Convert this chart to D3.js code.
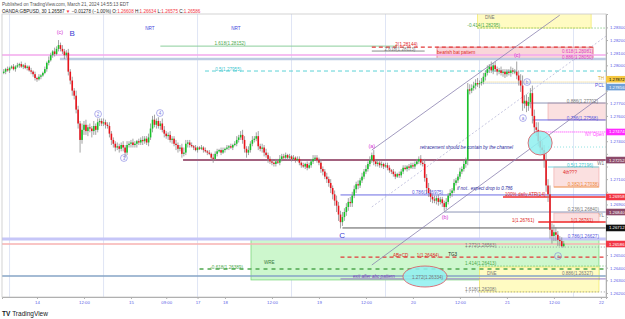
<!DOCTYPE html>
<html><head><meta charset="utf-8">
<script src="https://cdnjs.cloudflare.com/ajax/libs/d3/7.8.5/d3.min.js"></script>
<style>
body{margin:0;background:#fff;}
svg{display:block;font-family:"Liberation Sans",Arial,sans-serif;}
</style>
</head><body>
<svg width="625" height="319"></svg>
<script>
// GBPUSD 30m candles, 13 Mar 15:30 -> 21 Mar 14:30 (NY time, weekend removed)
const firstOpen = 1.2794;
const closes = [
 1.2795,1.2797,1.2796,1.2798,1.2799,1.2797,1.2799,1.2800,1.2801,1.2799,1.2800,1.2798,1.2799,1.2796,1.2795,1.2793,
 1.2790,1.2789,1.2791,1.2792,1.2794,1.2797,1.2802,1.2804,1.2808,1.2811,1.2809,1.2813,1.2816,1.2813,1.2811,1.2808,
 1.2810,1.2795,1.2788,1.2780,1.2776,1.2765,1.2754,1.2741,1.2749,1.2753,1.2748,1.2751,1.2750,1.2748,1.2752,1.2749,
 1.2755,1.2756,1.2754,1.2755,1.2753,1.2752,1.2746,1.2741,1.2738,1.2735,1.2736,1.2734,1.2737,1.2735,1.2731,1.2737,
 1.2738,1.2739,1.2737,1.2738,1.2740,1.2739,1.2741,1.2740,1.2742,1.2739,1.2743,1.2750,1.2757,1.2753,1.2756,1.2752,
 1.2754,1.2749,1.2746,1.2744,1.2745,1.2741,1.2742,1.2738,1.2737,1.2734,1.2735,1.2730,1.2731,1.2738,1.2739,1.2737,
 1.2736,1.2735,1.2733,1.2735,1.2734,1.2735,1.2733,1.2732,1.2731,1.2730,1.2727,1.2726,1.2730,1.2732,1.2733,1.2731,
 1.2733,1.2734,1.2735,1.2736,1.2735,1.2737,1.2738,1.2741,1.2743,1.2745,1.2741,1.2734,1.2731,1.2733,1.2738,1.2741,
 1.2742,1.2744,1.2736,1.2734,1.2735,1.2731,1.2729,1.2726,1.2724,1.2723,1.2722,1.2724,1.2723,1.2726,1.2728,1.2727,
 1.2729,1.2727,1.2728,1.2726,1.2727,1.2725,1.2726,1.2723,1.2721,1.2720,1.2722,1.2719,1.2721,1.2724,1.2726,1.2727,
 1.2725,1.2723,1.2718,1.2716,1.2712,1.2710,1.2707,1.2703,1.2698,1.2693,1.2689,1.2682,1.2676,1.2680,1.2684,1.2688,
 1.2692,1.2691,1.2697,1.2702,1.2706,1.2705,1.2709,1.2712,1.2716,1.2718,1.2722,1.2725,1.2729,1.2724,1.2722,1.2723,
 1.2721,1.2722,1.2720,1.2721,1.2719,1.2717,1.2716,1.2714,1.2712,1.2714,1.2713,1.2716,1.2719,1.2718,1.2720,1.2719,
 1.2721,1.2720,1.2722,1.2724,1.2726,1.2723,1.2722,1.2711,1.2703,1.2699,1.2696,1.2694,1.2693,1.2695,1.2692,1.2694,
 1.2691,1.2688,1.2692,1.2697,1.2699,1.2701,1.2707,1.2709,1.2712,1.2716,1.2718,1.2722,1.2725,1.2781,1.2780,1.2782,
 1.2784,1.2786,1.2785,1.2786,1.2787,1.2791,1.2794,1.2797,1.2799,1.2796,1.2800,1.2797,1.2795,1.2796,1.2794,1.2795,
 1.2793,1.2795,1.2794,1.2796,1.2795,1.2795,1.2792,1.2788,1.2784,1.2770,1.2772,1.2768,1.2771,1.2778,1.2760,1.2751,
 1.2749,1.2740,1.2735,1.2733,1.2725,1.2705,1.2698,1.2670,1.2665,1.2668,1.2666,1.2662,1.2661,1.2657,1.2659
];
// wick lengths in pips above / below the body
const wickUp = [
 2,1,2,1,1,2,1,2,1,2,1,2,1,1,2,1, 2,1,2,1,1,2,1,3,2,1,3,2,4,2,3,2,
 2,3,2,3,2,4,3,2,5,3,4,2,3,2,4,2, 3,2,2,3,2,2,3,2,2,2,3,2,2,3,2,3,
 2,2,3,2,1,2,2,3,2,2,3,4,3,4,2,3, 2,4,3,2,2,3,2,2,3,2,2,3,4,3,2,2,
 2,1,2,1,1,2,1,2,1,2,1,3,2,2,1,2, 2,1,2,1,2,1,2,3,2,3,4,3,2,3,2,3,
 2,3,4,2,3,2,3,2,2,2,1,2,2,3,2,2, 2,1,2,1,2,1,2,2,1,2,1,2,2,2,3,2,
 2,2,3,2,2,3,2,3,2,3,4,3,3,4,3,3, 3,4,3,3,2,3,2,3,2,3,2,3,2,4,2,2,
 2,2,1,2,2,2,1,2,2,1,2,2,2,2,1,2, 2,2,2,2,2,3,2,4,3,4,3,2,3,2,3,2,
 2,2,3,2,3,2,3,2,2,3,2,3,2,5,4,3, 3,3,4,2,3,3,2,3,2,4,2,3,2,2,3,2,
 2,2,2,3,2,2,8,4,5,8,4,5,4,4,6,5, 4,6,4,5,4,6,5,7,5,6,4,3,3,3,2
];
const wickDn = [
 1,2,1,2,1,1,2,1,2,1,2,1,2,1,2,2, 2,2,1,2,1,1,2,2,1,2,2,1,2,2,2,3,
 2,3,3,4,3,3,4,10,3,4,3,4,3,5,3,4, 2,3,2,2,3,2,3,4,3,3,2,3,2,3,4,2,
 2,3,2,2,3,2,2,3,2,2,3,2,3,2,3,2, 3,2,3,2,3,2,3,2,4,3,2,3,2,2,3,2,
 1,2,1,2,1,1,2,1,2,1,2,3,1,2,1,2, 1,2,1,2,1,2,1,2,2,2,3,3,4,2,2,2,
 2,2,3,2,3,3,2,3,2,2,2,2,1,2,2,1, 1,2,1,2,1,2,1,2,2,1,2,2,1,2,2,1,
 2,2,3,3,2,3,3,4,4,4,5,5,5,3,3,3, 3,3,3,2,3,3,2,2,2,2,2,2,2,3,2,2,
 2,2,2,1,2,2,2,2,2,1,2,2,2,1,2,2, 1,2,2,1,2,2,2,3,4,3,4,3,2,3,3,2,
 3,3,2,2,2,3,2,2,2,2,2,2,3,4,3,2, 2,3,2,3,2,2,3,2,3,2,3,2,3,2,2,3,
 3,2,2,3,2,2,3,4,5,6,4,5,4,5,6,5, 5,4,5,4,6,5,6,7,6,4,5,5,4,1,1
];

const xTickIdx = [17,41,65,83,99,113,137,161,185,209,233,257,281,305];
const xTickLabels = ['14','12:00','15','09:00','17','18','12:00','19','12:00','20','12:00','21','12:00','22'];
const sessionIdx = [3,51,99,147,195,243,291];
const priceTicks = [1.262,1.263,1.264,1.265,1.266,1.267,1.268,1.269,1.270,1.271,1.272,
                    1.273,1.274,1.275,1.276,1.277,1.278,1.279,1.280,1.281,1.282,1.283];

// drawn price levels: [price, fromIdx, toIdx, kind]
const levels = [
 [1.28081, -1, 308, 'pink'], [1.28050, 28.7, 308, 'steel'],
 [1.28152, 80, 201, 'green'], [1.28144, 188, 301, 'reddash'], [1.28113, 188, 215, 'grey'],
 [1.28295, 242, 308, 'greendot'], [1.27955, 102.8, 308, 'cyandash'],
 [1.27868, 244, 308, 'yellowdot'], [1.27858, 244, 308, 'bluedot'],
 [1.27702, 265, 308, 'slate'], [1.27568, 270, 308, 'blue'],
 [1.27473, 271, 308, 'magdot'], [1.27354, 278, 308, 'cyandot'],
 [1.27251, 91.6, 308, 'maroon'], [1.27196, 278, 304, 'cyan'], [1.27038, 281, 304, 'orange'],
 [1.26975, 172, 308, 'blue'], [1.26959, 255, 308, 'red'], [1.26840, 225, 308, 'slate'],
 [1.26761, 273, 308, 'red'], [1.26714, 173, 308, 'black'],
 [1.26627, -1, 308, 'lavender'], [1.26587, -1, 308, 'curprice'],
 [1.26563, 236, 308, 'greydot'], [1.26484, 172, 308, 'reddash'],
 [1.26413, 243, 308, 'greendot'], [1.26389, 100, 308, 'greendash'],
 [1.26334, -1, 308, 'steelblue'], [1.26311, 172, 308, 'purple'], [1.26208, 236, 308, 'greydot']
];
// zones: [priceTop, priceBottom, fromIdx, toIdx, kind]
const zones = [
 [1.28420, 1.28295, 242, 300, 'yellow'],
 [1.28144, 1.28050, 221.3, 301, 'redzone'],
 [1.27702, 1.27568, 278, 308, 'pinkzone'],
 [1.27196, 1.27038, 281, 304, 'pinkzone'],
 [1.26832, 1.26761, 281, 304, 'pinkzone'],
 [1.26627, 1.26303, 126.3, 304, 'greenzone'],
 [1.26405, 1.26208, 243, 304, 'yellow']
];
// channel lines: [idx0, price0, idx1, price1, kind]
const channel = [
 [188, 1.27330, 284, 1.28397, 'solid'],
 [188, 1.26421, 307.6, 1.27781, 'solid'],
 [188, 1.26880, 307.6, 1.28231, 'dotted']
];
// ovals: [idx0, idx1, priceTop, priceBottom]
const ovals = [
 [267.8, 280.1, 1.27481, 1.27291],
 [203.9, 226.4, 1.26413, 1.26247]
];
// text notes: [idx, price, text, kind, anchor]
const notes = [
 [28.7, 1.28263, '(c)', 'mag', 'middle'], [35, 1.28255, 'B', 'bigblue', 'middle'],
 [74.7, 1.28295, 'NRT', 'nrt', 'middle'], [118.6, 1.28295, 'NRT', 'nrt', 'middle'],
 [115.6, 1.28170, '1.618(1.28152)', 'green', 'middle'],
 [200, 1.28168, '2(1.28144)', 'red', 'start'], [194.5, 1.28126, '2.618(1.28113)', 'grey', 'start'],
 [221.3, 1.28105, 'bearish bat pattern', 'red', 'start'],
 [262.2, 1.28081, '(c)', 'mag', 'middle'],
 [301, 1.28108, '0.618(1.28081)', 'pink', 'end'], [301, 1.28065, '0.886(1.28050)', 'pink', 'end'],
 [253.5, 1.28318, '-0.414(1.28295)', 'green', 'end'], [245.8, 1.28382, 'DNE', 'grey', 'start'],
 [108, 1.27971, '0.5(1.27955)', 'cyan', 'start'],
 [306.6, 1.27900, 'TH', 'yellow', 'end'], [306.6, 1.27844, 'PCL', 'blue', 'end'],
 [303.5, 1.27718, '0.886(1.27702)', 'grey', 'end'], [303.5, 1.27583, '0.786(1.27568)', 'blue', 'end'],
 [306.6, 1.27457, 'NY Open', 'magenta', 'end'],
 [212.6, 1.27354, 'retracement should be contain by the channel', 'navy', 'start'],
 [188, 1.27362, '(a)', 'mag', 'middle'],
 [301, 1.27212, '0.5(1.27196)', 'cyan', 'end'], [306.6, 1.27227, 'W1', 'grey', 'end'],
 [285.6, 1.27156, '4th???', 'red', 'start'],
 [304, 1.27061, '0.382(1.27038)', 'orange', 'end'],
 [208.5, 1.26998, '0.786(1.26975)', 'blue', 'start'],
 [231.5, 1.27030, 'if not.. expect drop to 0.786', 'navy', 'start'],
 [256, 1.26983, '100% daily ATR(14)', 'red', 'start'],
 [304, 1.26864, '0.236(1.26840)', 'grey', 'end'], [306.6, 1.26816, 'YL', 'grey', 'end'],
 [225.4, 1.26801, '(b)', 'mag', 'middle'],
 [259.6, 1.26777, '1(1.26761)', 'red', 'start'], [301, 1.26777, '1(1.26761)', 'red', 'end'],
 [172.8, 1.26658, 'C', 'bigblue', 'middle'],
 [304, 1.26650, '0.786(1.26627)', 'blue', 'end'],
 [235.6, 1.26579, '1.272(1.26563)', 'grey', 'start'],
 [132.9, 1.26445, 'WRE', 'dkgreen', 'start'],
 [198.8, 1.26500, 'AB=CD', 'red', 'start'], [211, 1.26500, '1(1.26484)', 'red', 'start'],
 [227, 1.26508, 'TG3', 'black', 'start'],
 [235.6, 1.26437, '1.414(1.26413)', 'green', 'start'],
 [105.5, 1.26405, '-0.618(1.26389)', 'green', 'start'],
 [178.4, 1.26334, 'exit after abc pattern', 'purple', 'start'],
 [208.5, 1.26326, '1.272(1.26334)', 'grey', 'start'],
 [246.8, 1.26358, 'DNE', 'grey', 'start'], [301, 1.26358, '0.886(1.26327)', 'grey', 'end'],
 [235.6, 1.26231, '1.618(1.26208)', 'grey', 'start']
];
// circled wave labels: [idx, price, text]
const waves = [
 [48.2, 1.27615, '2'], [61.4, 1.27267, '3'], [79.8, 1.27623, '4'],
 [267.3, 1.27868, 'b'], [265.2, 1.27583, 'a'], [283.1, 1.26492, 'c']
];
// price scale tags: [price, text, kind]
const tags = [
 [1.27890, '1.27872', 'yellow'], [1.27828, '1.27856', 'blue'],
 [1.27473, '1.27474', 'magenta'], [1.27251, '1.27252', 'maroon'],
 [1.26959, '1.26958', 'red'], [1.26840, '1.26840', 'maroon'],
 [1.26714, '1.26712', 'black'], [1.26587, '1.26586', 'red']
];

const svg = d3.select('svg');
const plot = { left: 2, right: 606, top: 14, bottom: 297 };

const x = d3.scaleLinear().domain([-0.87, 307.6]).range([plot.left, plot.right]);
const y = d3.scaleLinear().domain([1.26168, 1.28406]).range([plot.bottom, plot.top]);

const lineStyle = {
  pink: ['#f3a8ec', 1.5], steel: ['#bccbe2', 2.5], green: ['#8ccf9c', 1],
  reddash: ['#e23a3a', 1.3, '4,3'], grey: ['#8a8a8a', 1], greendot: ['#5fb85f', 1, '1,2'],
  cyandash: ['#5cd2d6', 1, '4,3'], yellowdot: ['#f0cf6a', 1, '1,1'], bluedot: ['#9cb8e8', 1, '1,1'],
  slate: ['#8d95b6', 1], blue: ['#6b6be3', 1], magdot: ['#ff2cff', 1, '1,1'],
  cyandot: ['#8fe1e1', 1, '1,2'], maroon: ['#a3627f', 2], cyan: ['#7fd8e0', 1],
  orange: ['#f2a35f', 1], red: ['#f02e2e', 1.5], black: ['#585858', 1],
  lavender: ['#c6c6f8', 3], curprice: ['#f7b2b2', 1.5], greydot: ['#9a9a9a', 1, '1,2'],
  greendash: ['#4fa84f', 1.5, '4,4'], steelblue: ['#86a5c6', 1.5], purple: ['#9475c4', 1]
};
const zoneStyle = {
  yellow: ['#fffbc2', '#f4ea6e'], redzone: ['#f9d6d9', '#e67a80'],
  pinkzone: ['#fbe0e0', '#f2b5b5'], greenzone: ['#cdf7cd', '#7ed67e']
};
const textColor = {
  mag: '#d433d4', bigblue: '#3c3cd2', nrt: '#4646dc', green: '#4aa84a', red: '#e02424',
  grey: '#777777', pink: '#e23dc2', cyan: '#3cc6cf', yellow: '#d8a827', blue: '#5858dc',
  magenta: '#ff3cff', navy: '#28289c', orange: '#ef8a36', black: '#222222',
  dkgreen: '#3a7a3a', purple: '#7a3cb8'
};
const tagColor = {
  yellow: ['#f5c842', '#000'], blue: ['#6f9fd8', '#fff'], magenta: ['#ff2cff', '#fff'],
  maroon: ['#8c4a6a', '#fff'], red: ['#f23645', '#fff'], black: ['#111', '#fff']
};

svg.append('defs').append('clipPath').attr('id', 'clip')
  .append('rect').attr('x', plot.left).attr('y', plot.top)
  .attr('width', plot.right - plot.left).attr('height', plot.bottom - plot.top);

// header
const head = svg.append('g').style('font-size', '4.6px');
head.append('text').attr('x', 2).attr('y', 6).attr('fill', '#555')
  .text('Published on TradingView.com, March 21, 2024 14:55:13 EDT');
const h2 = head.append('text').attr('x', 2).attr('y', 12.5).attr('fill', '#222');
h2.append('tspan').text('OANDA:GBPUSD, 30  1.26587 ');
h2.append('tspan').attr('fill', '#f23645').text('▼');
h2.append('tspan').text(' −0.01278 (−1.00%)  O:');
h2.append('tspan').attr('fill', '#f23645').text('1.26608');
h2.append('tspan').text(' H:');
h2.append('tspan').attr('fill', '#f23645').text('1.26634');
h2.append('tspan').text(' L:');
h2.append('tspan').attr('fill', '#f23645').text('1.26575');
h2.append('tspan').text(' C:');
h2.append('tspan').attr('fill', '#f23645').text('1.26586');

const g = svg.append('g').attr('clip-path', 'url(#clip)');

// session separators
g.selectAll('.sess').data(sessionIdx).enter().append('line')
  .attr('x1', d => x(d)).attr('x2', d => x(d))
  .attr('y1', plot.top).attr('y2', plot.bottom)
  .attr('stroke', '#dfe5f5').attr('stroke-width', 1);

// zones
zones.forEach(z => {
  const s = zoneStyle[z[4]];
  g.append('rect')
    .attr('x', x(z[2])).attr('y', y(z[0]))
    .attr('width', x(z[3]) - x(z[2])).attr('height', y(z[1]) - y(z[0]))
    .attr('fill', s[0]).attr('stroke', s[1]).attr('stroke-width', 0.8);
});

// levels
levels.forEach(l => {
  const s = lineStyle[l[3]];
  g.append('line')
    .attr('x1', x(l[1])).attr('x2', x(l[2]))
    .attr('y1', y(l[0])).attr('y2', y(l[0]))
    .attr('stroke', s[0]).attr('stroke-width', s[1])
    .attr('stroke-dasharray', s[2] || null);
});

// channel
channel.forEach(c => {
  g.append('line')
    .attr('x1', x(c[0])).attr('y1', y(c[1]))
    .attr('x2', x(c[2])).attr('y2', y(c[3]))
    .attr('stroke', c[4] === 'dotted' ? '#b8b8d8' : '#8a82b0')
    .attr('stroke-width', 0.8)
    .attr('stroke-dasharray', c[4] === 'dotted' ? '2,2' : null);
});

// candles
const candles = closes.map((c, i) => {
  const o = i === 0 ? firstOpen : closes[i - 1];
  return {
    i: i, o: o, c: c,
    h: Math.max(o, c) + (wickUp[i] || 0) * 1e-4,
    l: Math.min(o, c) - (wickDn[i] || 0) * 1e-4
  };
});
const cg = g.append('g');
cg.selectAll('.wick').data(candles).enter().append('line')
  .attr('x1', d => x(d.i)).attr('x2', d => x(d.i))
  .attr('y1', d => y(d.h)).attr('y2', d => y(d.l))
  .attr('stroke', '#8c8c8c').attr('stroke-width', 0.8);
cg.selectAll('.body').data(candles).enter().append('rect')
  .attr('x', d => x(d.i) - 0.8).attr('width', 1.6)
  .attr('y', d => y(Math.max(d.o, d.c)))
  .attr('height', d => Math.max(0.8, Math.abs(y(d.o) - y(d.c))))
  .attr('fill', d => d.c >= d.o ? '#18c22a' : '#e8141c');

// ovals
ovals.forEach(o => {
  g.append('ellipse')
    .attr('cx', (x(o[0]) + x(o[1])) / 2).attr('cy', (y(o[2]) + y(o[3])) / 2)
    .attr('rx', (x(o[1]) - x(o[0])) / 2).attr('ry', (y(o[3]) - y(o[2])) / 2)
    .attr('fill', '#8ff0f0').attr('fill-opacity', 0.85)
    .attr('stroke', '#e0505a').attr('stroke-width', 0.8);
});

// notes
notes.forEach(n => {
  const k = n[3];
  g.append('text')
    .attr('x', x(n[0])).attr('y', y(n[1]))
    .attr('dy', '0.35em')
    .attr('text-anchor', n[4])
    .attr('fill', textColor[k])
    .style('font-size', k === 'bigblue' ? '8px' : (k === 'mag' ? '5.5px' : '4.6px'))
    .style('font-style', (k === 'navy' || k === 'purple') ? 'italic' : null)
    .text(n[2]);
});

// circled wave labels
waves.forEach(w => {
  const wg = g.append('g').attr('transform', `translate(${x(w[0])},${y(w[1])})`);
  wg.append('circle').attr('r', 3.4).attr('fill', 'none')
    .attr('stroke', '#7c7ce0').attr('stroke-width', 0.6);
  wg.append('text').attr('text-anchor', 'middle').attr('dy', '0.35em')
    .attr('fill', '#7c7ce0').style('font-size', '4.5px').text(w[2]);
});

// frame
svg.append('rect').attr('x', plot.left).attr('y', plot.top)
  .attr('width', plot.right - plot.left).attr('height', plot.bottom - plot.top)
  .attr('fill', 'none').attr('stroke', '#c8c8c8').attr('stroke-width', 0.8);

// y axis (labels hidden where a price tag sits, as TradingView does)
const tagY = tags.map(t => y(t[0]));
const yAxis = svg.append('g')
  .attr('transform', `translate(${plot.right},0)`)
  .call(d3.axisRight(y).tickValues(priceTicks).tickSize(2).tickFormat(d3.format('.5f')));
yAxis.select('.domain').attr('stroke', '#b0b0b0');
yAxis.selectAll('.tick line').attr('stroke', '#b0b0b0');
yAxis.selectAll('.tick text').attr('x', 4).attr('fill', '#5a5ae6').style('font-size', '4.3px')
  .style('display', d => tagY.some(ty => Math.abs(ty - y(d)) < 6.5) ? 'none' : null);

// price tags
tags.forEach(t => {
  const c = tagColor[t[2]];
  const tg = svg.append('g').attr('transform', `translate(${plot.right},${y(t[0])})`);
  tg.append('rect').attr('x', 0).attr('y', -3.3).attr('width', 19).attr('height', 6.6).attr('fill', c[0]);
  tg.append('text').attr('x', 3).attr('dy', '0.35em').attr('fill', c[1])
    .style('font-size', '4.3px').text(t[1]);
});

// x axis
const xAxis = svg.append('g')
  .attr('transform', `translate(0,${plot.bottom})`)
  .call(d3.axisBottom(x).tickValues(xTickIdx).tickSize(2).tickFormat((d, i) => xTickLabels[i]));
xAxis.select('.domain').attr('stroke', '#b0b0b0');
xAxis.selectAll('.tick line').attr('stroke', '#b0b0b0');
xAxis.selectAll('.tick text').attr('y', 4).attr('fill', '#5a5ae6').style('font-size', '4.3px');

// footer logo
const foot = svg.append('text').attr('x', 2).attr('y', 315.5).style('font-size', '6.5px').attr('fill', '#131722');
foot.append('tspan').style('font-weight', 'bold').text('TV ');
foot.append('tspan').text('TradingView');
</script>
</body></html>
